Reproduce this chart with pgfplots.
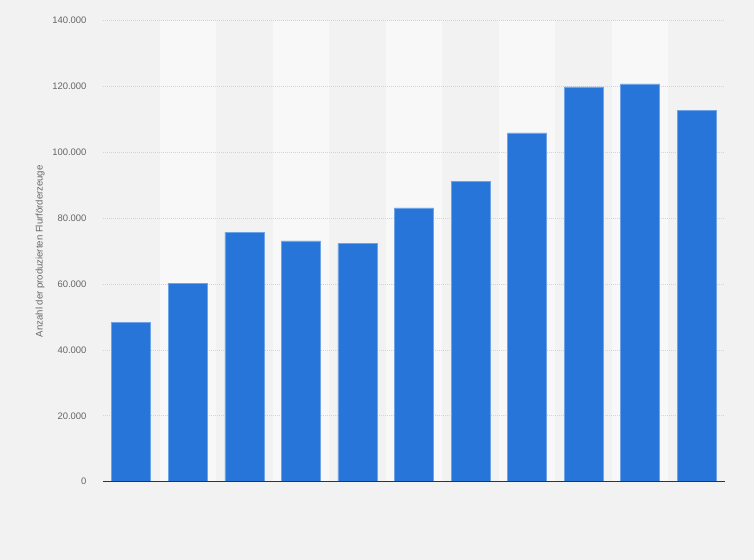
\documentclass[border=0pt]{standalone}
\usepackage{fontspec}
\setmainfont{Liberation Sans}
\usepackage{pgfplots}
\pgfplotsset{compat=1.18}
\definecolor{pagebg}{HTML}{F2F2F2}
\definecolor{bandbg}{HTML}{F8F8F8}
\definecolor{barblue}{HTML}{2775D9}
\definecolor{baredge}{HTML}{6FA3E8}
\definecolor{txtgray}{HTML}{666666}
\definecolor{gridgray}{HTML}{D4D4D4}

\begin{document}
\begin{tikzpicture}
% page background, 754 x 560
\fill[pagebg] (-103bp,-78.3bp) rectangle (651bp,481.7bp);
\begin{axis}[
  scale only axis, width=622bp, height=461bp,
  xmin=-0.5, xmax=10.5, ymin=0, ymax=140000,
  xtick=\empty,
  ytick={0,20000,40000,60000,80000,100000,120000,140000},
  yticklabels={0,20.000,40.000,60.000,80.000,100.000,120.000,140.000},
  scaled y ticks=false,
  yticklabel style={font=\fontsize{9.5}{11}\selectfont, color=txtgray, xshift=-13bp},
  major tick length=0pt,
  axis x line*=bottom, axis y line*=left,
  y axis line style={draw=none},
  x axis line style={draw=none},
  ylabel={Anzahl der produzierten Flurförderzeuge},
  every axis y label/.style={at={(axis description cs:-0.101,0.5)}, rotate=90,
    anchor=center, font=\fontsize{9.6}{11}\selectfont, color=txtgray},
]
% column bands
\fill[bandbg] (axis cs:0.5,0) rectangle (axis cs:1.5,140000);
\fill[bandbg] (axis cs:2.5,0) rectangle (axis cs:3.5,140000);
\fill[bandbg] (axis cs:4.5,0) rectangle (axis cs:5.5,140000);
\fill[bandbg] (axis cs:6.5,0) rectangle (axis cs:7.5,140000);
\fill[bandbg] (axis cs:8.5,0) rectangle (axis cs:9.5,140000);
% grid
\pgfplotsinvokeforeach{20000,40000,60000,80000,100000,120000,140000}{
  \draw[gridgray, line width=0.8bp, dash pattern=on 1bp off 1bp]
    (axis cs:-0.5,#1) -- (axis cs:10.5,#1);
}
\addplot[ybar, bar width=0.69, fill=barblue, draw=baredge, line width=0.6bp]
  coordinates {(0,48300) (1,60100) (2,75650) (3,73150) (4,72300) (5,83150)
               (6,91100) (7,105950) (8,119900) (9,120800) (10,112650)};
% baseline on top of the bars
\draw[black!80, line width=1.4bp] (axis cs:-0.5,0) -- (axis cs:10.5,0);
\end{axis}
\end{tikzpicture}
\end{document}
